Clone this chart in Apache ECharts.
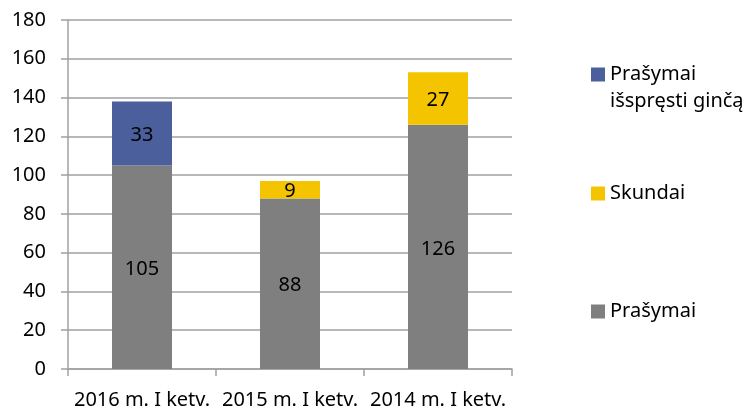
<!DOCTYPE html>
<html lang="lt">
<head>
    <meta charset="UTF-8">
    <title>Prašymai ir skundai</title>
    <style>
        html, body {
            margin: 0;
            padding: 0;
            background: #fff;
        }
        #chart {
            width: 749px;
            height: 410px;
        }
    </style>
</head>
<body>
<div id='chart'></div>

<script src='https://cdn.jsdelivr.net/npm/echarts@6/dist/echarts.min.js'></script>
<script>
    var categories = ['2016 m. I ketv.', '2015 m. I ketv.', '2014 m. I ketv.'];
    var prasymai = [105, 88, 126];
    var skundai = [null, 9, 27];
    var gincai = [33, null, null];
    var yTicks = [0, 20, 40, 60, 80, 100, 120, 140, 160, 180];

    var font = 'Noto Sans';
    var gridColor = '#a0a0a0';

    function legendFor(name, top, text) {
        return {
            data: [name],
            orient: 'vertical',
            left: 591,
            top: top,
            padding: 0,
            itemWidth: 14,
            itemHeight: 14,
            itemGap: 0,
            icon: 'rect',
            selectedMode: false,
            formatter: function () {
                return text;
            },
            textStyle: {
                color: '#000',
                fontFamily: font,
                fontSize: 20,
                lineHeight: 27
            }
        };
    }

    function barLabel() {
        return {
            show: true,
            position: 'inside',
            offset: [0, 2],
            color: '#000',
            fontFamily: font,
            fontSize: 20
        };
    }

    var chart = echarts.init(document.getElementById('chart'));
    var options = {
        animation: false,
        legend: [
            legendFor('Prašymai išspręsti ginčą', 34, ' \nPrašymai\nišspręsti ginčą'),
            legendFor('Skundai', 180, 'Skundai'),
            legendFor('Prašymai', 298, 'Prašymai')
        ],
        grid: {
            left: 68,
            right: 237,
            top: 20,
            bottom: 41
        },
        xAxis: {
            type: 'category',
            data: categories,
            axisLine: {
                lineStyle: {color: gridColor, width: 1.5}
            },
            axisTick: {
                show: true,
                length: 7,
                lineStyle: {color: gridColor, width: 1.5}
            },
            axisLabel: {
                interval: 0,
                margin: 21,
                color: '#000',
                fontFamily: font,
                fontSize: 20
            }
        },
        yAxis: {
            type: 'value',
            min: yTicks[0],
            max: yTicks[yTicks.length - 1],
            interval: yTicks[1] - yTicks[0],
            axisLine: {
                show: true,
                lineStyle: {color: gridColor, width: 1.5}
            },
            axisTick: {
                show: true,
                length: 7,
                lineStyle: {color: gridColor, width: 1.5}
            },
            splitLine: {
                show: true,
                lineStyle: {color: gridColor, width: 1.5}
            },
            axisLabel: {
                margin: 22,
                color: '#000',
                fontFamily: font,
                fontSize: 20
            }
        },
        series: [
            {
                name: 'Prašymai',
                type: 'bar',
                stack: 'total',
                barWidth: 60,
                data: prasymai,
                itemStyle: {color: '#7f7f7f'},
                label: barLabel()
            },
            {
                name: 'Skundai',
                type: 'bar',
                stack: 'total',
                barWidth: 60,
                data: skundai,
                itemStyle: {color: '#f5c400'},
                label: barLabel()
            },
            {
                name: 'Prašymai išspręsti ginčą',
                type: 'bar',
                stack: 'total',
                barWidth: 60,
                data: gincai,
                itemStyle: {color: '#4a5f9c'},
                label: barLabel()
            }
        ]
    };
    chart.setOption(options);
</script>
</body>
</html>
